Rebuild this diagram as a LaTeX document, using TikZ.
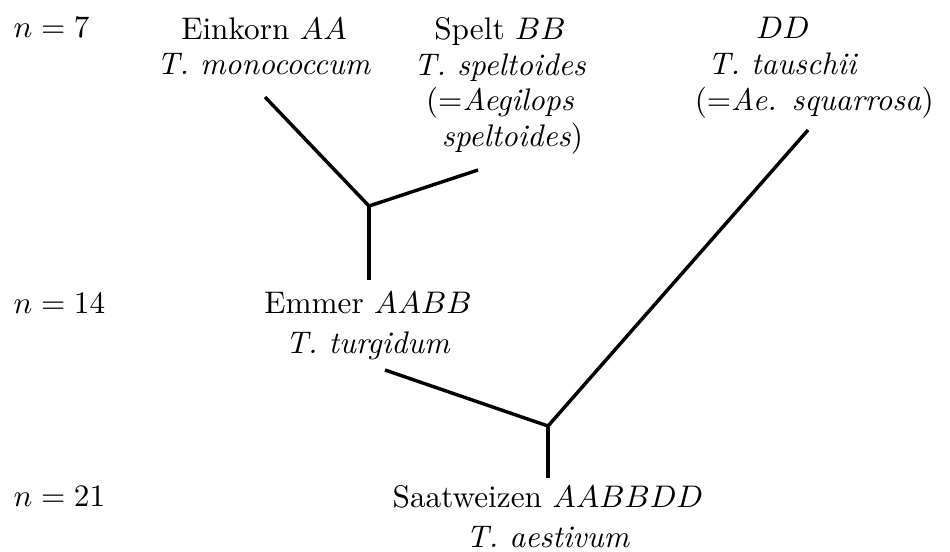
\documentclass[tikz,border=0pt]{standalone}
\begin{document}
\begin{tikzpicture}[x=.32pt,y=-.32pt,
	taxon/.style={align=center,inner sep=0pt,anchor=north,font=\fontsize{10}{11.4}\selectfont},
	lowtaxon/.style={taxon,font=\fontsize{10}{12.6}\selectfont},
	ploidy/.style={inner sep=0pt,anchor=north west},
	branch/.style={line width=1.1pt}]
		\useasboundingbox (0,0) rectangle (950,551);
		
		\node[ploidy] (n7) at (13,17) {$n=7$};
		\node[ploidy] (n14) at (13,293) {$n=14$};
		\node[ploidy] (n21) at (13,486) {$n=21$};
		
		\node[taxon] (einkorn) at (264,17) {Einkorn $AA$\\ \textit{T. monococcum}};
		\node[taxon] (spelt) at (500,17) {Spelt $BB$\\ \textit{T. speltoides}\\ (=\textit{Aegilops}\\ \hspace*{8pt}\textit{speltoides})};
		\node[taxon] (tauschii) at (783,17) {$DD$\\ \textit{T. tauschii}\\ \hspace*{20pt}(=\textit{Ae. squarrosa})};
		\node[lowtaxon] (emmer) at (368,292) {Emmer $AABB$\\ \textit{T. turgidum}};
		\node[lowtaxon] (saat) at (548,485) {Saatweizen $AABBDD$\\ \textit{T. aestivum}};
		
		\coordinate (j1) at (369,206); \coordinate (j2) at (548,426);
		\coordinate (ek) at (265,97); \coordinate (sp) at (478,170); \coordinate (em) at (369,280);
		\coordinate (tu) at (385,370); \coordinate (ta) at (808,130); \coordinate (sa) at (548,478);
		
		\draw[branch] (ek) -- (j1) -- (sp); \draw[branch] (j1) -- (em);
		\draw[branch] (tu) -- (j2) -- (ta); \draw[branch] (j2) -- (sa);
		\end{tikzpicture}
\end{document}
